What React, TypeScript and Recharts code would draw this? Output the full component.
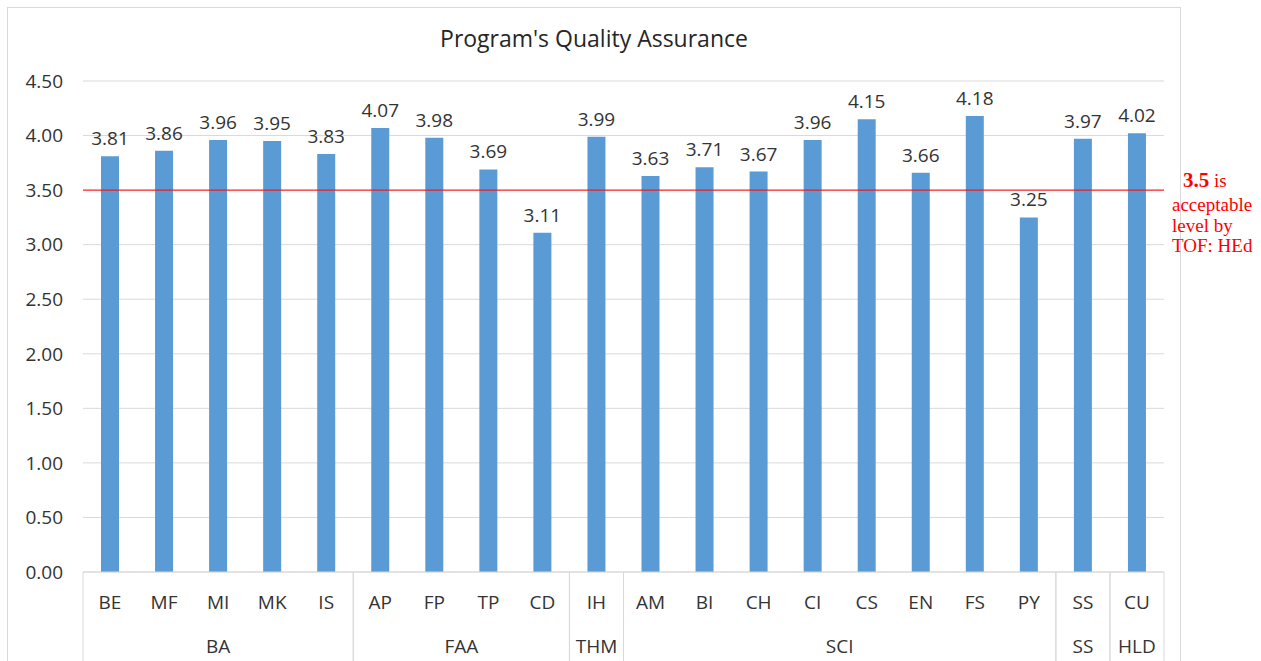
import React from 'react';
import {
  BarChart,
  Bar,
  XAxis,
  YAxis,
  CartesianGrid,
  ReferenceLine,
  LabelList,
} from 'recharts';

const categories = ['BE', 'MF', 'MI', 'MK', 'IS', 'AP', 'FP', 'TP', 'CD', 'IH', 'AM', 'BI', 'CH', 'CI', 'CS', 'EN', 'FS', 'PY', 'SS', 'CU'];
const scores = [3.81, 3.86, 3.96, 3.95, 3.83, 4.07, 3.98, 3.69, 3.11, 3.99, 3.63, 3.71, 3.67, 3.96, 4.15, 3.66, 4.18, 3.25, 3.97, 4.02];
const groupNames = ['BA', 'FAA', 'THM', 'SCI', 'SS', 'HLD'];
const groupSizes = [5, 4, 1, 8, 1, 1];
const yTicks = [0, 0.5, 1, 1.5, 2, 2.5, 3, 3.5, 4, 4.5];
const threshold = 3.5;

const data = categories.map((name, i) => ({ name, score: scores[i] }));

// chart geometry
const W = 1261;
const H = 661;
const M = { top: 81, right: 97, bottom: 0, left: 0 };
const Y_W = 83;
const X_H = 89;
const PLOT_LEFT = M.left + Y_W;
const PLOT_W = W - PLOT_LEFT - M.right;
const PLOT_BOTTOM = H - M.bottom - X_H;
const STEP = PLOT_W / categories.length;

const FONT = '"Open Sans", sans-serif';
const TEXT = '#333333';
const GRID = '#d9d9d9';
const FS = 19;

// which group each category belongs to
const groupOf: { g: number; start: boolean; last: boolean }[] = [];
groupSizes.forEach((n, g) => {
  for (let k = 0; k < n; k++) groupOf.push({ g, start: k === 0, last: k === n - 1 });
});

function CategoryTick(props: any) {
  const { x, payload, index } = props;
  const info = groupOf[index];
  const size = groupSizes[info.g];
  return (
    <g>
      <text x={x} y={PLOT_BOTTOM + 37} textAnchor="middle" fontSize={FS} fill={TEXT} fontFamily={FONT}>
        {payload.value}
      </text>
      {info.start && (
        <>
          <line x1={x - STEP / 2} x2={x - STEP / 2} y1={PLOT_BOTTOM} y2={H} stroke={GRID} />
          <text x={x + ((size - 1) * STEP) / 2} y={PLOT_BOTTOM + 81} textAnchor="middle" fontSize={FS} fill={TEXT} fontFamily={FONT}>
            {groupNames[info.g]}
          </text>
        </>
      )}
      {info.last && <line x1={x + STEP / 2} x2={x + STEP / 2} y1={PLOT_BOTTOM} y2={H} stroke={GRID} />}
    </g>
  );
}

function ThresholdNote(props: any) {
  const { viewBox } = props;
  const x = viewBox.x + viewBox.width + 8;
  const y = viewBox.y;
  const serif = '"Liberation Serif", "Times New Roman", serif';
  return (
    <g fill="#ff0000" fontFamily={serif} fontSize={19}>
      <text x={x + 11} y={y - 3}>
        <tspan fontWeight="bold" fontSize={21}>{threshold.toFixed(1)}</tspan>
        <tspan> is</tspan>
      </text>
      <text x={x} y={y + 21}>acceptable</text>
      <text x={x} y={y + 42}>level by</text>
      <text x={x} y={y + 62}>TOF: HEd</text>
    </g>
  );
}

export default function App() {
  return (
    <div style={{ position: 'absolute', left: 0, top: 0, width: W, height: H, overflow: 'hidden', background: '#fff' }}>
      <div style={{ position: 'absolute', left: 7, top: 7, width: 1172, height: 720, border: `1px solid ${GRID}` }} />
      <div
        style={{
          position: 'absolute',
          left: 7,
          width: 1174,
          top: 22,
          textAlign: 'center',
          fontFamily: FONT,
          fontSize: 23,
          color: '#262626',
        }}
      >
        Program's Quality Assurance
      </div>
      <div style={{ position: 'absolute', left: 0, top: 0 }}>
        <BarChart width={W} height={H} data={data} margin={M} barCategoryGap={0}>
          <CartesianGrid vertical={false} stroke={GRID} />
          <XAxis
            dataKey="name"
            interval={0}
            height={X_H}
            tickLine={false}
            axisLine={{ stroke: GRID }}
            tick={<CategoryTick />}
          />
          <YAxis
            width={Y_W}
            domain={[0, 4.5]}
            ticks={yTicks}
            tickFormatter={(v: number) => v.toFixed(2)}
            axisLine={false}
            tickLine={false}
            tickSize={0}
            tickMargin={20}
            tick={{ fontSize: FS, fill: TEXT, fontFamily: FONT }}
          />
          <Bar dataKey="score" fill="#5b9bd5" barSize={18} isAnimationActive={false}>
            <LabelList
              dataKey="score"
              position="top"
              offset={11}
              formatter={(v: any) => Number(v).toFixed(2)}
              style={{ fontSize: FS, fill: TEXT, fontFamily: FONT }}
            />
          </Bar>
          <ReferenceLine y={threshold} stroke="#ff0000" strokeWidth={1} ifOverflow="visible" label={<ThresholdNote />} />
        </BarChart>
      </div>
    </div>
  );
}
